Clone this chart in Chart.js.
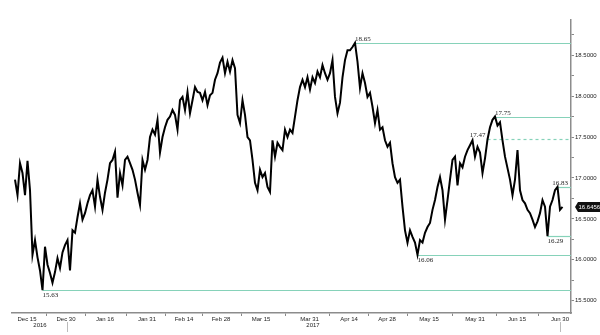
<!DOCTYPE html>
<html><head><meta charset="utf-8">
<script src="https://cdn.jsdelivr.net/npm/chart.js@4/dist/chart.umd.min.js"></script>
<style>html,body{margin:0;padding:0;background:#fff;}#wrap{width:600px;height:335px;}</style>
</head><body><div id="wrap"><canvas id="c" width="600" height="335"></canvas></div>
<script>
// Price series (evenly spaced observations, Dec 2016 - Jun 2017)
const prices = [
16.98,16.79,17.18,17.06,16.79,17.21,16.85,16.06,16.24,16.03,
15.87,15.63,16.16,15.94,15.84,15.72,15.85,16.02,15.90,16.09,
16.18,16.24,15.87,16.36,16.33,16.52,16.69,16.49,16.57,16.69,
16.79,16.85,16.65,16.98,16.77,16.61,16.82,16.98,17.18,17.22,
17.32,16.76,17.06,16.91,17.22,17.26,17.18,17.10,16.98,16.82,
16.67,17.22,17.10,17.22,17.50,17.59,17.53,17.71,17.31,17.50,
17.62,17.71,17.75,17.83,17.77,17.59,17.95,17.99,17.83,18.05,
17.79,17.95,18.11,18.05,18.04,17.95,18.05,17.89,18.01,18.04,
18.20,18.28,18.41,18.47,18.28,18.42,18.30,18.44,18.34,17.77,
17.67,17.95,17.77,17.50,17.46,17.22,16.94,16.85,17.10,17.01,
17.06,16.89,16.83,17.46,17.26,17.43,17.38,17.34,17.59,17.50,
17.59,17.55,17.75,17.95,18.11,18.20,18.11,18.23,18.08,18.23,
18.16,18.30,18.23,18.38,18.28,18.20,18.28,18.44,17.99,17.79,
17.92,18.23,18.44,18.56,18.56,18.60,18.65,18.42,18.10,18.28,
18.16,17.99,18.04,17.87,17.67,17.83,17.59,17.62,17.46,17.38,
17.43,17.18,17.01,16.94,16.98,16.65,16.36,16.21,16.36,16.28,
16.21,16.06,16.24,16.21,16.33,16.40,16.45,16.61,16.73,16.89,
17.01,16.85,16.49,16.73,16.98,17.22,17.26,16.91,17.18,17.13,
17.26,17.34,17.40,17.46,17.26,17.38,17.31,17.06,17.24,17.47,
17.62,17.71,17.75,17.64,17.68,17.46,17.26,17.12,16.98,16.79,
16.98,17.34,16.85,16.73,16.69,16.61,16.57,16.49,16.40,16.47,
16.57,16.73,16.65,16.29,16.65,16.73,16.85,16.89,16.61,16.6456
];
const lastPriceText = '16.6456';

// Date tick labels (positions in observation index units)
const tickIdx    = [4.8, 20.4, 36, 52.8, 67.6, 82.4, 98.4, 117.8, 133.6, 148.8, 165.6, 184, 200.8, 218];
const tickLabels = ['Dec 15','Dec 30','Jan 16','Jan 31','Feb 14','Feb 28','Mar 15','Mar 31','Apr 14','Apr 28','May 15','May 31','Jun 15','Jun 30'];
const yearIdx    = [10, 119.2];
const yearLabels = ['2016','2017'];
const dividerIdx = [20.8, 218];

// Annotated levels
const levelValues = [18.65, 17.75, 17.47, 16.89, 16.29, 16.06, 15.63];
const levelIdx    = [136, 192, 189, 217, 213, 161, 11];
const levelText   = ['18.65','17.75','17.47','16.83','16.29','16.06','15.63'];
const levelKind   = ['high','high','mid','high','low','low','low'];
const levelDashed = [false,false,true,false,false,false,false];

// Price axis ticks
const yTicks = [15.5,15.75,16,16.25,16.5,16.75,17,17.25,17.5,17.75,18,18.25,18.5,18.75];
const yMin = 15.35, yMax = 18.93;
const xMin = -1.2, xMax = 222.4;

const LEVEL_COLOR = '#86d2b9';
const sans = '"Liberation Sans", Arial, sans-serif';
const serif = '"Liberation Serif", "Times New Roman", serif';

const midTicks = [];
for (let i = 0; i < tickIdx.length - 1; i++) midTicks.push((tickIdx[i] + tickIdx[i+1]) / 2);

const levelsPlugin = {
  id: 'levels',
  beforeDatasetsDraw(chart) {
    const {ctx, chartArea, scales:{x, y}} = chart;
    ctx.save();
    levelValues.forEach((v, i) => {
      const px = x.getPixelForValue(levelIdx[i]);
      const py = Math.round(y.getPixelForValue(v)) + 0.5;
      ctx.strokeStyle = LEVEL_COLOR;
      ctx.lineWidth = 1.2;
      ctx.setLineDash(levelDashed[i] ? [3, 3] : []);
      ctx.beginPath();
      ctx.moveTo(px, py);
      ctx.lineTo(chartArea.right, py);
      ctx.stroke();
    });
    ctx.restore();
  },
  afterDatasetsDraw(chart) {
    const {ctx, chartArea, scales:{x, y}} = chart;
    ctx.save();
    ctx.font = '7px ' + serif;
    ctx.fillStyle = '#222';
    levelValues.forEach((v, i) => {
      const px = x.getPixelForValue(levelIdx[i]);
      const py = y.getPixelForValue(v);
      const w = ctx.measureText(levelText[i]).width;
      let tx = px;
      if (levelKind[i] === 'mid') {
        tx = px - w - 2;
      } else if (tx + w > chartArea.right - 3) {
        tx = chartArea.right - 3 - w;
      }
      if (levelKind[i] === 'low') {
        ctx.textBaseline = 'top';
        ctx.fillText(levelText[i], tx, py + 2);
      } else {
        ctx.textBaseline = 'alphabetic';
        ctx.fillText(levelText[i], tx, py - 2);
      }
    });
    // last price tag
    const ly = y.getPixelForValue(prices[prices.length - 1]);
    const bx = chartArea.right + 7;
    ctx.fillStyle = '#111';
    ctx.beginPath();
    ctx.moveTo(bx - 3, ly);
    ctx.lineTo(bx, ly - 5);
    ctx.lineTo(600, ly - 5);
    ctx.lineTo(600, ly + 5);
    ctx.lineTo(bx, ly + 5);
    ctx.closePath();
    ctx.fill();
    ctx.fillStyle = '#fff';
    ctx.font = '6px ' + sans;
    ctx.textBaseline = 'middle';
    ctx.fillText(lastPriceText, bx + 0.5, ly + 0.5);
    // year labels and dividers below x axis
    ctx.fillStyle = '#222';
    ctx.textAlign = 'center';
    ctx.textBaseline = 'top';
    ctx.font = '6px ' + sans;
    yearLabels.forEach((t, i) => ctx.fillText(t, x.getPixelForValue(yearIdx[i]), chartArea.bottom + 9));
    ctx.strokeStyle = '#bbb';
    ctx.lineWidth = 1;
    dividerIdx.forEach(d => {
      const dx = Math.round(x.getPixelForValue(d)) + 0.5;
      ctx.beginPath();
      ctx.moveTo(dx, chartArea.bottom + 9);
      ctx.lineTo(dx, chartArea.bottom + 19);
      ctx.stroke();
    });
    ctx.restore();
  }
};

new Chart(document.getElementById('c'), {
  type: 'line',
  data: {
    datasets: [{
      data: prices.map((p, i) => ({x: i, y: p})),
      borderColor: '#000',
      borderWidth: 2,
      pointRadius: 0,
      tension: 0,
      fill: false
    }]
  },
  options: {
    responsive: false,
    animation: false,
    layout: {padding: {left: 12, top: 20, right: 0, bottom: 0}},
    plugins: {legend: {display: false}, tooltip: {enabled: false}},
    scales: {
      x: {
        type: 'linear',
        min: xMin, max: xMax,
        afterBuildTicks(s) { s.ticks = tickIdx.concat(midTicks).sort((a,b)=>a-b).map(v => ({value: v})); },
        afterFit(s) { s.height = 22; },
        ticks: {
          autoSkip: false, maxRotation: 0, padding: 0,
          color: '#222', font: {family: sans, size: 6},
          callback(v) { const k = tickIdx.indexOf(v); return k >= 0 ? tickLabels[k] : ''; }
        },
        grid: {
          drawOnChartArea: false, drawTicks: true, tickLength: 3,
          tickColor(c) { return (c.tick && tickIdx.indexOf(c.tick.value) >= 0) ? 'rgba(0,0,0,0)' : '#888'; }
        },
        border: {color: '#8c8c8c', width: 1.5}
      },
      y: {
        position: 'right',
        min: yMin, max: yMax,
        afterBuildTicks(s) { s.ticks = yTicks.map(v => ({value: v})); },
        afterFit(s) { s.width = 29; },
        ticks: {
          padding: 1, color: '#222', font: {family: sans, size: 6},
          callback(v) { return Math.abs(v * 2 - Math.round(v * 2)) < 1e-9 ? v.toFixed(4) : ''; }
        },
        grid: {drawOnChartArea: false, drawTicks: true, tickLength: 3, tickColor: '#888'},
        border: {color: '#8c8c8c', width: 1.5}
      }
    }
  },
  plugins: [levelsPlugin]
});
</script>
</body></html>
